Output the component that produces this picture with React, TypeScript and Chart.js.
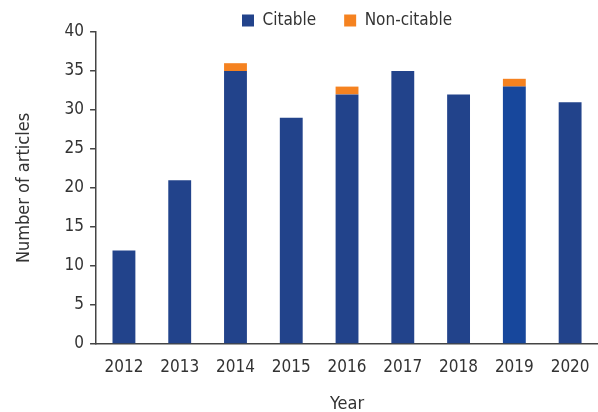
import React, { useEffect, useRef } from "react";
import { Chart, registerables } from "chart.js";

Chart.register(...registerables);

const years = ["2012", "2013", "2014", "2015", "2016", "2017", "2018", "2019", "2020"];
const citable = [12, 21, 35, 29, 32, 35, 32, 33, 31];
const nonCitable = [0, 0, 1, 0, 1, 0, 0, 1, 0];
const citableColors = ["#22438b", "#22438b", "#22438b", "#22438b", "#22438b", "#22438b", "#22438b", "#17479c", "#22438b"];
const yTicks = [0, 5, 10, 15, 20, 25, 30, 35, 40];

const FONT = "'DejaVu Sans Condensed', 'DejaVu Sans', sans-serif";

const legendShift = {
  id: "legendShift",
  beforeLayout(chart: any) {
    const lg = chart.legend;
    if (lg && !lg.__patched) {
      const orig = lg.fit.bind(lg);
      lg.fit = function () {
        orig();
        this.height = Math.max(0, this.height - 7);
      };
      lg.__patched = true;
    }
  },
};

export default function App() {
  const ref = useRef<HTMLCanvasElement>(null);
  useEffect(() => {
    const chart = new Chart(ref.current!, {
      type: "bar",
      data: {
        labels: years,
        datasets: [
          { label: "Citable", data: citable, backgroundColor: citableColors, borderWidth: 0 },
          { label: "Non-citable", data: nonCitable, backgroundColor: "#f58220", borderWidth: 0 },
        ],
      },
      options: {
        animation: false,
        responsive: false,
        maintainAspectRatio: false,
        layout: { padding: { top: 6, right: 8, left: 14, bottom: -3 } },
        datasets: { bar: { categoryPercentage: 1, barPercentage: 0.41 } },
        plugins: {
          tooltip: { enabled: false },
          legend: {
            position: "top",
            fullSize: false,
            title: { display: true, text: "", font: { size: 10 }, padding: 0 },
            labels: {
              font: { family: FONT, size: 17 },
              color: "#333",
              boxWidth: 12,
              boxHeight: 12,
              padding: -6,
              generateLabels: (chart: any) => {
                const items = Chart.defaults.plugins.legend.labels.generateLabels(chart);
                items.forEach((it: any, i: number) => {
                  it.fillStyle = i === 0 ? "#22438b" : "#f58220";
                  it.strokeStyle = it.fillStyle;
                  it.lineWidth = 0;
                  if (i === 0) it.text = it.text + "       ";
                });
                return items;
              },
            },
          },
        },
        scales: {
          x: {
            stacked: true,
            grid: { display: false },
            border: { display: true, color: "#444", width: 1.5 },
            ticks: { font: { family: FONT, size: 17 }, color: "#333", padding: 5 },
            title: { display: true, text: "Year", font: { family: FONT, size: 18 }, color: "#333", padding: { top: 11, bottom: 0 } },
          },
          y: {
            stacked: true,
            min: 0,
            max: 40,
            afterBuildTicks: (axis: any) => {
              axis.ticks = yTicks.map((v) => ({ value: v }));
            },
            grid: { drawOnChartArea: false, drawTicks: true, tickLength: 6, color: "#444", lineWidth: 1.5 },
            border: { display: true, color: "#444", width: 1.5 },
            ticks: { font: { family: FONT, size: 17 }, color: "#333", padding: 6 },
            title: { display: true, text: "Number of articles", font: { family: FONT, size: 18 }, color: "#333", padding: { top: 0, bottom: 23 } },
          },
        },
      },
      plugins: [legendShift],
    });
    return () => chart.destroy();
  }, []);
  return (
    <div style={{ position: "absolute", left: 0, top: 0, width: 598, height: 412, overflow: "hidden", background: "#fff" }}>
      <canvas ref={ref} width={606} height={412} style={{ width: 606, height: 412, display: "block" }} />
    </div>
  );
}
